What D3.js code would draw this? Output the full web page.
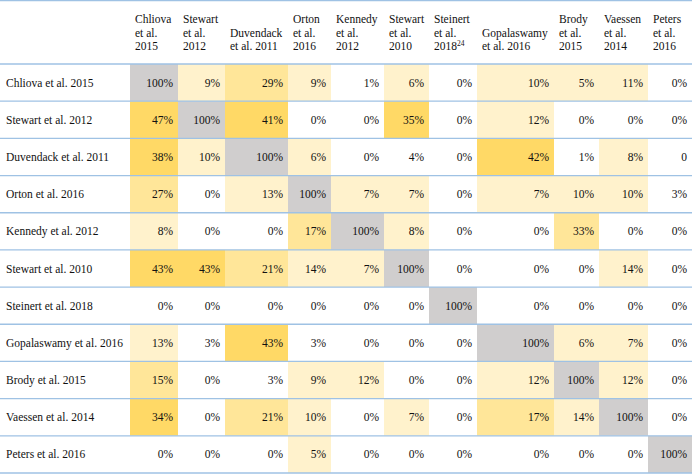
<!DOCTYPE html>
<html>
<head>
<meta charset="utf-8">
<script src="https://cdn.jsdelivr.net/npm/d3@7/dist/d3.min.js"></script>
<style>
  html, body { margin: 0; padding: 0; background: #fff; }
  svg { display: block; }
</style>
</head>
<body>
<svg id="chart" width="692" height="474"></svg>
<script>
// ---------- data ----------
const studies = [
  "Chliova et al. 2015", "Stewart et al. 2012", "Duvendack et al. 2011",
  "Orton et al. 2016", "Kennedy et al. 2012", "Stewart et al. 2010",
  "Steinert et al. 2018", "Gopalaswamy et al. 2016", "Brody et al. 2015",
  "Vaessen et al. 2014", "Peters et al. 2016"
];
// header lines per column ("^" marks a superscript)
const columnHeaders = [
  ["Chliova", "et al.", "2015"],
  ["Stewart", "et al.", "2012"],
  ["Duvendack", "et al. 2011"],
  ["Orton", "et al.", "2016"],
  ["Kennedy", "et al.", "2012"],
  ["Stewart", "et al.", "2010"],
  ["Steinert", "et al.", "2018^24"],
  ["Gopalaswamy", "et al. 2016"],
  ["Brody", "et al.", "2015"],
  ["Vaessen", "et al.", "2014"],
  ["Peters", "et al.", "2016"]
];
// overlap percentages, row study vs column study
const overlap = [
  [100,   9,  29,   9,   1,   6,   0,  10,   5,  11,   0],
  [ 47, 100,  41,   0,   0,  35,   0,  12,   0,   0,   0],
  [ 38,  10, 100,   6,   0,   4,   0,  42,   1,   8,   0],
  [ 27,   0,  13, 100,   7,   7,   0,   7,  10,  10,   3],
  [  8,   0,   0,  17, 100,   8,   0,   0,  33,   0,   0],
  [ 43,  43,  21,  14,   7, 100,   0,   0,   0,  14,   0],
  [  0,   0,   0,   0,   0,   0, 100,   0,   0,   0,   0],
  [ 13,   3,  43,   3,   0,   0,   0, 100,   6,   7,   0],
  [ 15,   0,   3,   9,  12,   0,   0,  12, 100,  12,   0],
  [ 34,   0,  21,  10,   0,   7,   0,  17,  14, 100,   0],
  [  0,   0,   0,   5,   0,   0,   0,   0,   0,   0, 100]
];
// cells printed without the % sign in the source table [row, col]
const bareNumberCells = [[2, 10]];

// ---------- layout ----------
const W = 692, H = 474;
const colWidths = [130, 48, 47, 63, 43, 53, 45, 48, 77, 45, 49, 44]; // first = label column
const headerBottom = 64, tableBottom = 473;
const fontSize = 11.5, lineH = 13.3;
const FONT = '"Liberation Serif", "Times New Roman", Tinos, serif';

const svg = d3.select("#chart").style("font-family", FONT);

const colIdx = d3.range(studies.length);
const lefts = [];
let acc = colWidths[0];
colWidths.slice(1).forEach(w => { lefts.push(acc); acc += w; });
const x = d3.scaleOrdinal().domain(colIdx).range(lefts);
const xw = d3.scaleOrdinal().domain(colIdx).range(colWidths.slice(1));
const y = d3.scaleBand().domain(studies).range([headerBottom, tableBottom]);

const color = d3.scaleThreshold()
  .domain([5, 15, 34, 100])
  .range(["#ffffff", "#fff2cc", "#ffe699", "#ffd966", "#d0cece"]);

const cells = [];
overlap.forEach((row, r) => row.forEach((v, c) => cells.push({ r, c, v })));

// cell fills
svg.append("g").selectAll("rect").data(cells).join("rect")
  .attr("x", d => x(d.c))
  .attr("y", d => y(studies[d.r]))
  .attr("width", d => xw(d.c))
  .attr("height", y.bandwidth())
  .attr("fill", d => color(d.v));

// horizontal rules
const ruleYs = [0.6, headerBottom].concat(studies.map(s => y(s) + y.bandwidth()));
svg.append("g").selectAll("line").data(ruleYs).join("line")
  .attr("x1", 0).attr("x2", W)
  .attr("y1", d => d).attr("y2", d => d)
  .attr("stroke", "#9fc2e4").attr("stroke-width", 1.3);

// row labels
svg.append("g").selectAll("text").data(studies).join("text")
  .attr("x", 6)
  .attr("y", d => y(d) + y.bandwidth() / 2)
  .attr("dy", "0.35em")
  .attr("font-size", fontSize)
  .attr("fill", "#111")
  .style("font-family", FONT)
  .text(d => d);

// cell values
const isBare = (r, c) => bareNumberCells.some(p => p[0] === r && p[1] === c);
svg.append("g").selectAll("text").data(cells).join("text")
  .attr("x", d => x(d.c) + xw(d.c) - 5)
  .attr("y", d => y(studies[d.r]) + y.bandwidth() / 2)
  .attr("dy", "0.35em")
  .attr("text-anchor", "end")
  .attr("font-size", fontSize)
  .attr("fill", "#111")
  .style("font-family", FONT)
  .text(d => isBare(d.r, d.c) ? String(d.v) : d.v + "%");

// column headers (bottom aligned)
const hdr = svg.append("g").selectAll("text").data(columnHeaders).join("text")
  .attr("font-size", fontSize)
  .attr("fill", "#111")
  .style("font-family", FONT);
hdr.each(function (lines, c) {
  const t = d3.select(this);
  const n = lines.length;
  lines.forEach((ln, i) => {
    const baseY = 50 - (n - 1 - i) * lineH;
    const parts = ln.split("^");
    t.append("tspan")
      .attr("x", x(c) + 5)
      .attr("y", baseY)
      .text(parts[0]);
    if (parts[1]) {
      t.append("tspan")
        .attr("dy", -4.5)
        .attr("font-size", 7.5)
        .text(parts[1]);
    }
  });
});
</script>
</body>
</html>
